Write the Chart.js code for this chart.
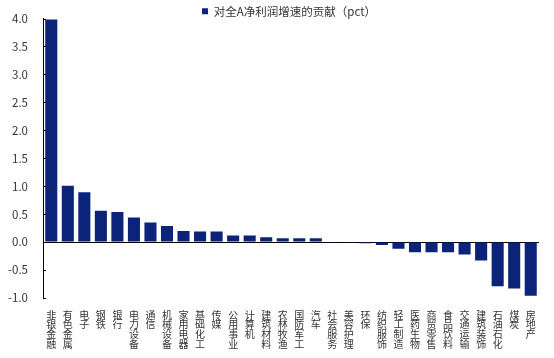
<!DOCTYPE html>
<html>
<head>
<meta charset="utf-8">
<script src="https://cdn.jsdelivr.net/npm/chart.js@4/dist/chart.umd.min.js"></script>
<style>
html,body{margin:0;padding:0;background:#fff;}
#wrap{width:554px;height:358px;position:relative;}
</style>
</head>
<body>
<div id="wrap"><canvas id="c" width="554" height="358"></canvas></div>
<script>
const categories = ["非银金融","有色金属","电子","钢铁","银行","电力设备","通信","机械设备","家用电器","基础化工","传媒","公用事业","计算机","建筑材料","农林牧渔","国防军工","汽车","社会服务","美容护理","环保","纺织服饰","轻工制造","医药生物","商贸零售","食品饮料","交通运输","建筑装饰","石油石化","煤炭","房地产"];
const seriesName = "对全A净利润增速的贡献（pct）";
const values = [3.98,1.01,0.89,0.56,0.54,0.44,0.35,0.29,0.20,0.19,0.19,0.12,0.12,0.085,0.07,0.07,0.07,-0.01,-0.01,-0.02,-0.05,-0.12,-0.18,-0.18,-0.18,-0.22,-0.33,-0.79,-0.83,-0.96];
const yMin = -1.0, yMax = 4.0, yStep = 0.5;

const FONT = "'Noto Sans CJK SC','Noto Sans',sans-serif";

const innerTicks = {
  id: 'innerTicks',
  afterLayout(chart) {
    const lg = chart.legend;
    if (lg) { lg.top += 8.5; lg.bottom += 8.5; lg.left += 19.5; lg.right += 19.5; }
  },
  afterDraw(chart) {
    const y = chart.scales.y, ctx = chart.ctx;
    const left = chart.chartArea.left;
    ctx.save();
    ctx.strokeStyle = '#000';
    ctx.lineWidth = 1;
    y.ticks.forEach(t => {
      const py = Math.round(y.getPixelForValue(t.value)) + 0.5;
      ctx.beginPath();
      ctx.moveTo(left, py);
      ctx.lineTo(left + 3, py);
      ctx.stroke();
    });
    ctx.restore();
  }
};

new Chart(document.getElementById('c'), {
  type: 'bar',
  data: {
    labels: categories.map(s => s.split('')),
    datasets: [{
      label: seriesName,
      data: values,
      backgroundColor: '#0b2479',
      borderWidth: 0,
      barPercentage: 0.73,
      categoryPercentage: 1.0
    }]
  },
  plugins: [innerTicks],
  options: {
    responsive: false,
    animation: false,
    layout: { padding: { left: 0, right: 15, top: -3, bottom: 8 } },
    plugins: {
      legend: {
        display: true,
        position: 'top',
        labels: {
          boxWidth: 6, boxHeight: 6, padding: 0,
          color: '#333',
          font: { family: FONT, size: 11.5 }
        }
      },
      tooltip: { enabled: false }
    },
    scales: {
      x: {
        type: 'category',
        afterFit(s) { s.height = 52; },
        grid: { display: false, drawTicks: false },
        border: { display: false },
        ticks: {
          autoSkip: false, maxRotation: 0, minRotation: 0,
          padding: 12,
          color: '#333',
          font: { family: FONT, size: 10, lineHeight: 0.97 }
        }
      },
      y: {
        min: yMin, max: yMax,
        afterFit(s) { s.width = 43; s.paddingTop = 0; s.paddingBottom = 0; },
        grid: {
          drawTicks: false,
          color: c => (c.tick && c.tick.value === 0) ? '#000' : 'rgba(0,0,0,0)',
          lineWidth: 1
        },
        border: { display: true, color: '#000', width: 1 },
        ticks: {
          stepSize: yStep,
          padding: 15,
          color: '#333',
          font: { family: FONT, size: 11.5 },
          callback: v => Number(v).toFixed(1)
        }
      }
    }
  }
});
</script>
</body>
</html>
